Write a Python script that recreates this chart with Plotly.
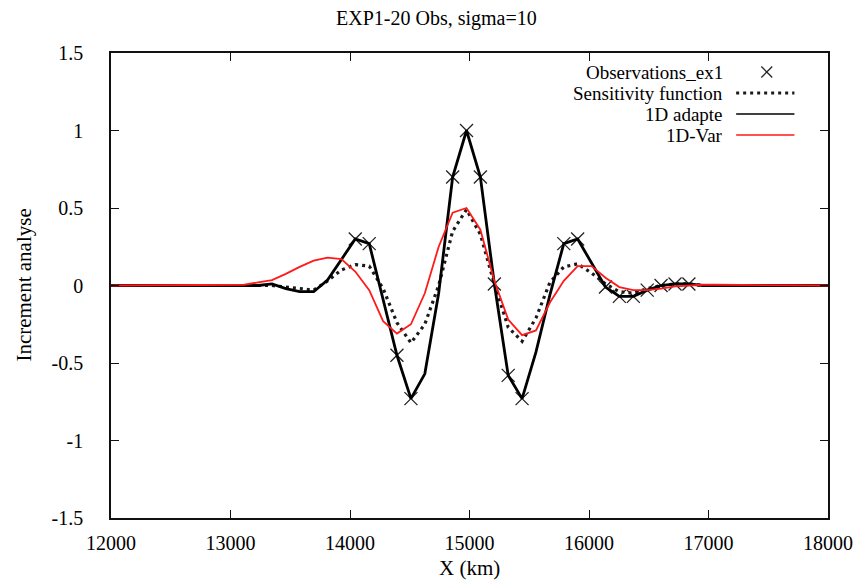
import plotly.graph_objects as go

# Model grid positions (km) and the analysed increments on that grid
grid_x = [12000, 13115, 13231, 13347, 13463, 13579, 13696, 13812, 13928, 14044,
          14161, 14277, 14393, 14510, 14626, 14742, 14859, 14975, 15091, 15208,
          15324, 15440, 15556, 15673, 15789, 15905, 16022, 16138, 16254, 16371,
          16487, 16603, 16720, 16836, 16952, 17068, 18000]

adapte_1d = [0, 0, 0, 0.01, -0.02, -0.04, -0.04, 0.035, 0.165, 0.30,
             0.27, -0.10, -0.45, -0.73, -0.57, -0.05, 0.70, 1.00, 0.70, 0.01,
             -0.58, -0.73, -0.43, -0.06, 0.27, 0.30, 0.14, -0.01, -0.07, -0.07,
             -0.03, 0.0, 0.01, 0.01, 0.0, 0, 0]

sensitivity = [0, 0, 0, 0, -0.01, -0.02, -0.03, 0.03, 0.10, 0.135,
               0.125, -0.02, -0.24, -0.37, -0.25, 0.0, 0.35, 0.49, 0.33, 0.01,
               -0.27, -0.36, -0.21, 0.02, 0.12, 0.14, 0.08, 0.01, -0.04, -0.05,
               -0.02, 0.0, 0.01, 0.01, 0.0, 0, 0]

var_1d = [0, 0.005, 0.02, 0.035, 0.075, 0.12, 0.16, 0.18, 0.17, 0.09,
          -0.03, -0.23, -0.31, -0.25, -0.05, 0.25, 0.47, 0.50, 0.36, 0.03,
          -0.22, -0.32, -0.29, -0.11, 0.03, 0.125, 0.125, 0.05, -0.01, -0.03,
          -0.03, -0.02, -0.005, 0.0, 0.005, 0.005, 0]

# Observations
obs_x = [14044, 14161, 14393, 14510, 14859, 14975, 15091, 15208, 15324, 15440,
         15789, 15905, 16138, 16254, 16371, 16487, 16603, 16720, 16836]
obs_y = [0.30, 0.27, -0.45, -0.73, 0.70, 1.00, 0.70, 0.01, -0.58, -0.73,
         0.27, 0.30, -0.01, -0.07, -0.07, -0.03, 0.0, 0.01, 0.01]

x_ticks = [12000, 13000, 14000, 15000, 16000, 17000, 18000]
y_ticks = [-1.5, -1, -0.5, 0, 0.5, 1, 1.5]
y_tick_text = ["-1.5", "-1", "-0.5", "0", "0.5", "1", "1.5"]

legend_labels = ["Observations_ex1", "Sensitivity function", "1D adapte", "1D-Var"]

FONT = "'Liberation Serif', 'DejaVu Serif', serif"
W, H = 865, 582
L, R, T, B = 111, 28, 53, 64
plot_w = W - L - R
plot_h = H - T - B


def px(xp):
    return (xp - L) / plot_w


def py(yp):
    return (H - B - yp) / plot_h


fig = go.Figure()

fig.add_trace(go.Scatter(
    x=obs_x, y=obs_y, mode="markers", name=legend_labels[0],
    marker=dict(symbol="x-thin", size=13, color="#222222",
                line=dict(width=1.3, color="#222222")),
    showlegend=False))

fig.add_trace(go.Scatter(
    x=grid_x, y=sensitivity, mode="lines", name=legend_labels[1],
    line=dict(color="#1a1a1a", width=3.2, dash="3px,4px"),
    showlegend=False))

fig.add_trace(go.Scatter(
    x=grid_x, y=adapte_1d, mode="lines", name=legend_labels[2],
    line=dict(color="black", width=2.8),
    showlegend=False))

fig.add_trace(go.Scatter(
    x=grid_x, y=var_1d, mode="lines", name=legend_labels[3],
    line=dict(color="#ff1a1a", width=1.8),
    showlegend=False))

# Key: right-aligned labels with the sample drawn to their right
key_rows = [72, 93, 114, 135]
text_right = 733
sample_l, sample_r = 744, 803
annotations = []
shapes = []
for label, yrow in zip(legend_labels, key_rows):
    annotations.append(dict(
        x=px(text_right), y=py(yrow), xref="paper", yref="paper",
        text=label, showarrow=False, xanchor="right", yanchor="middle",
        font=dict(family=FONT, size=19, color="black")))

# cross for the observations entry
cx, cy, hs = 775, key_rows[0], 5.5
shapes.append(dict(type="line", xref="paper", yref="paper",
                   x0=px(cx - hs), y0=py(cy - hs), x1=px(cx + hs), y1=py(cy + hs),
                   line=dict(color="#222222", width=1.3)))
shapes.append(dict(type="line", xref="paper", yref="paper",
                   x0=px(cx - hs), y0=py(cy + hs), x1=px(cx + hs), y1=py(cy - hs),
                   line=dict(color="#222222", width=1.3)))
shapes.append(dict(type="line", xref="paper", yref="paper",
                   x0=px(sample_l), y0=py(key_rows[1]), x1=px(sample_r), y1=py(key_rows[1]),
                   line=dict(color="#1a1a1a", width=3.2, dash="3px,4px")))
shapes.append(dict(type="line", xref="paper", yref="paper",
                   x0=px(sample_l), y0=py(key_rows[2]), x1=px(sample_r), y1=py(key_rows[2]),
                   line=dict(color="black", width=1.5)))
shapes.append(dict(type="line", xref="paper", yref="paper",
                   x0=px(sample_l), y0=py(key_rows[3]), x1=px(sample_r), y1=py(key_rows[3]),
                   line=dict(color="#ff1a1a", width=1.5)))

# axis titles and chart title
annotations.append(dict(x=0.5, y=py(568), xref="paper", yref="paper",
                        text="X (km)", showarrow=False, xanchor="center", yanchor="middle",
                        font=dict(family=FONT, size=21, color="black")))
annotations.append(dict(x=px(22), y=0.5, xref="paper", yref="paper",
                        text="Increment analyse", showarrow=False, textangle=-90,
                        xanchor="center", yanchor="middle",
                        font=dict(family=FONT, size=21, color="black")))
annotations.append(dict(x=px(441), y=py(18), xref="paper", yref="paper",
                        text="EXP1-20 Obs, sigma=10", showarrow=False,
                        xanchor="center", yanchor="middle",
                        font=dict(family=FONT, size=20, color="black")))

axis_common = dict(
    showgrid=False, zeroline=False, showline=True, linecolor="#111111",
    linewidth=1.6, mirror="allticks", ticks="inside", ticklen=8,
    tickwidth=1, tickcolor="#111111",
    tickfont=dict(family=FONT, size=20, color="black"))

fig.update_layout(
    width=W, height=H,
    margin=dict(l=L, r=R, t=T, b=B),
    paper_bgcolor="white", plot_bgcolor="white",
    showlegend=False,
    font=dict(family=FONT),
    xaxis=dict(range=[12000, 18000], tickvals=x_ticks,
               ticktext=[str(v) for v in x_ticks], ticklabelstandoff=6,
               **axis_common),
    yaxis=dict(range=[-1.5, 1.5], tickvals=y_ticks, ticktext=y_tick_text,
               ticklabelstandoff=22, **axis_common),
    annotations=annotations,
    shapes=shapes,
)

fig.write_html("out.html")
